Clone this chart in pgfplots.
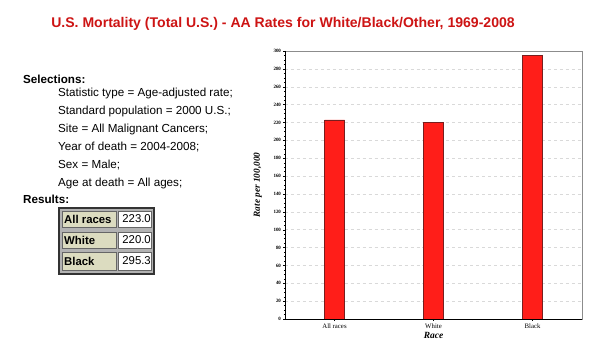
\documentclass[border=0pt]{standalone}
\usepackage{fontspec}
\setmainfont{Liberation Sans}
\newfontfamily\seriff{Liberation Serif}
\usepackage{pgfplots}
\pgfplotsset{compat=1.18}
\definecolor{titlered}{RGB}{205,20,20}
\definecolor{barred}{RGB}{255,30,25}
\definecolor{baredge}{RGB}{120,30,30}
\definecolor{beige}{RGB}{220,220,192}
\begin{document}
\begin{tikzpicture}[x=1bp,y=1bp]
\path (0,0) rectangle (601,355);
% title
\node[font=\bfseries\fontsize{14.1}{15}\selectfont, text=titlered] at (283,331.5) {U.S. Mortality (Total U.S.) - AA Rates for White/Black/Other, 1969-2008};
% selections
\node[anchor=west, font=\bfseries\fontsize{11.7}{13}\selectfont, inner sep=0] at (23,276) {Selections:};
\foreach \t [count=\i] in {Statistic type = Age-adjusted rate;, Standard population = 2000 U.S.;, Site = All Malignant Cancers;, Year of death = 2004-2008;, Sex = Male;, Age at death = All ages;}
  \node[anchor=west, font=\fontsize{11.7}{13}\selectfont, inner sep=0] at (58,280-18*\i) {\t};
\node[anchor=west, font=\bfseries\fontsize{11.7}{13}\selectfont, inner sep=0] at (23,156) {Results:};
% table
\fill[gray!60] (59,81) rectangle (154,147);
\draw[black!80, line width=1.2] (59,81) rectangle (154,147);
\foreach \lab/\val/\yt/\yb in {All races/223.0/144/128, White/220.0/123/107, Black/295.3/103/85}{
  \filldraw[fill=beige, draw=black!60] (62,\yb) rectangle (116,\yt);
  \filldraw[fill=white, draw=black!60] (118,\yb) rectangle (151,\yt);
  \node[anchor=west, font=\bfseries\fontsize{11.4}{12}\selectfont, inner sep=0] at (64,{(\yt+\yb)/2}) {\lab};
  \node[anchor=east, font=\fontsize{11.4}{12}\selectfont, inner sep=0] at (151,{(\yt+\yb)/2}) {\val};
}
\begin{axis}[
  at={(285bp,36bp)}, anchor=south west,
  scale only axis, width=297bp, height=268bp,
  xmin=-0.5, xmax=2.5, ymin=0, ymax=300,
  xtick={0,1,2}, xticklabels={All races, White, Black},
  ytick={0,20,...,300},
  minor y tick num=3,
  xtick pos=bottom, ytick pos=left,
  ymajorgrids, major grid style={dashed, black!15},
  axis line style={black!45},
  tick style={black, line width=0.3pt},
  major tick length=2bp, minor tick length=1.2bp,
  tick align=outside,
  x tick label style={font=\seriff\fontsize{6.8}{8}\selectfont, yshift=1bp},
  y tick label style={font=\seriff\bfseries\fontsize{5}{6}\selectfont, xshift=1.5bp},
  /pgf/number format/assume math mode=true,
  xlabel={Race}, ylabel={Rate per 100,000},
  xlabel style={font=\seriff\bfseries\itshape\fontsize{9.5}{10}\selectfont, at={(axis description cs:0.5,-0.063)}, anchor=center},
  ylabel style={font=\seriff\bfseries\itshape\fontsize{9.3}{10}\selectfont, at={(axis description cs:-0.092,0.5)}, anchor=center},
]
\addplot[ybar, bar width=20bp, fill=barred, draw=baredge] coordinates {(0,223.0) (1,220.0) (2,295.3)};
\draw[black, line width=0.9pt] (axis cs:-0.5,300) -- (axis cs:-0.5,0) -- (axis cs:2.5,0);
\end{axis}
\end{tikzpicture}
\end{document}
